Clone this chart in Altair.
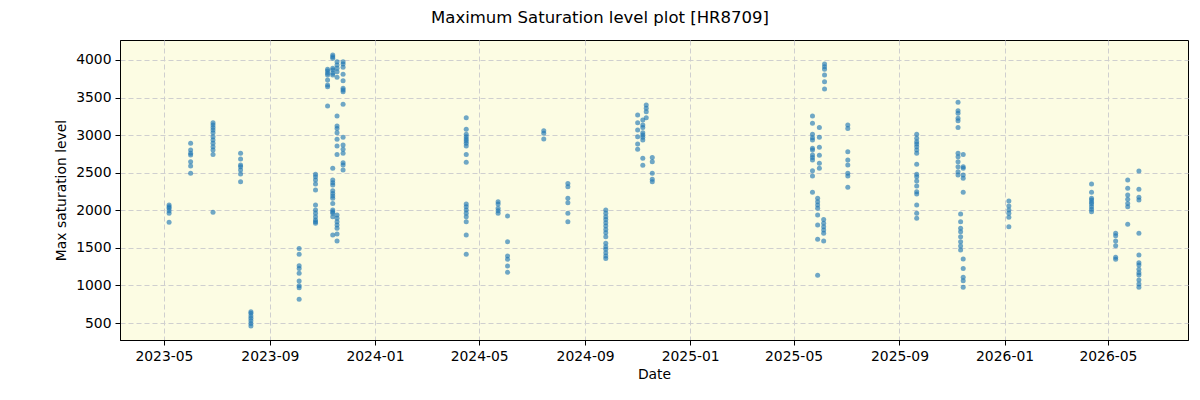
import altair as alt
import pandas as pd

# Observation dates (one entry per night) and the saturation levels measured on each
obs_dates = [
    "2023-05-07", "2023-06-01", "2023-06-27", "2023-07-29", "2023-08-10",
    "2023-10-05", "2023-10-24", "2023-11-07", "2023-11-13", "2023-11-18",
    "2023-11-25", "2024-04-16", "2024-05-23", "2024-06-03", "2024-07-15",
    "2024-08-12", "2024-09-25", "2024-11-01", "2024-11-07", "2024-11-11",
    "2024-11-18", "2025-05-23", "2025-05-29", "2025-05-31", "2025-06-05",
    "2025-06-06", "2025-07-03", "2025-09-21", "2025-11-08", "2025-11-11",
    "2025-11-14", "2026-01-06", "2026-04-12", "2026-05-10", "2026-05-24",
    "2026-06-06",
]

levels = [
    [2070, 2048, 2026, 1995, 1959, 1840],
    [2891, 2802, 2758, 2736, 2647, 2589, 2492],
    [3166, 3135, 3103, 3068, 3033, 2980, 2935, 2891, 2846, 2802, 2744, 1973],
    [2758, 2682, 2603, 2580, 2536, 2483, 2381],
    [651, 629, 593, 562, 531, 495, 460],
    [1493, 1414, 1263, 1227, 1161, 1059, 997, 970, 815],
    [2478, 2447, 2403, 2350, 2270, 2070, 2004, 1959, 1915, 1871, 1848, 1826],
    [3876, 3853, 3822, 3800, 3734, 3667, 3645, 3388],
    [4066, 4044, 4022, 3889, 3867, 3822, 3800, 2558, 2403, 2367, 2336, 2261,
     2225, 2190, 2159, 2092, 2004, 1981, 1959, 1915, 1671],
    [3978, 3933, 3889, 3845, 3769, 3255, 3122, 3090, 3033, 2944, 2855, 2744,
     1937, 1893, 1848, 1804, 1760, 1684, 1591],
    [3978, 3947, 3902, 3809, 3725, 3623, 3601, 3578, 3410, 2971, 2869, 2811,
     2758, 2634, 2603, 2536],
    [3232, 3077, 3011, 2980, 2949, 2922, 2891, 2855, 2744, 2638,
     2083, 2048, 2004, 1959, 1915, 1848, 1671, 1414],
    [2115, 2083, 2026, 1995, 1959],
    [1924, 1582, 1391, 1347, 1258, 1174],
    [3059, 3024, 2949],
    [2358, 2314, 2159, 2101, 1959, 1848],
    [2004, 1959, 1915, 1879, 1835, 1791, 1746, 1702, 1649, 1560, 1516, 1480,
     1436, 1391, 1360],
    [3268, 3166, 3068, 2980, 2882, 2811],
    [3201, 3135, 3103, 3033, 3002, 2971, 2935, 2691, 2598],
    [3401, 3357, 3312, 3232],
    [2704, 2647, 2492, 2412, 2381],
    [3255, 3157, 3011, 2966, 2935, 2824, 2802, 2736, 2704, 2669, 2527, 2456, 2239],
    [2159, 2115, 2070, 2026, 1937, 1804, 1613, 1134],
    [3103, 2971, 2838, 2731, 2625, 2558],
    [1879, 1826, 1782, 1737, 1693, 1591],
    [3947, 3911, 3876, 3800, 3711, 3614],
    [3135, 3090, 2780, 2669, 2603, 2492, 2456, 2305],
    [3011, 2957, 2913, 2882, 2846, 2802, 2758, 2611, 2478, 2447, 2390, 2323,
     2248, 2217, 2070, 1959, 1893],
    [3436, 3326, 3290, 3224, 3192, 3103, 2758, 2714, 2647, 2580, 2514, 2470],
    [1950, 1848, 1760, 1715, 1649, 1582, 1525, 1471],
    [2744, 2580, 2558, 2470, 2425, 2239, 1352, 1227, 1108, 1063, 975],
    [2123, 2057, 2004, 1959, 1906, 1782],
    [2350, 2239, 2159, 2137, 2106, 2083, 2048, 2013, 1981],
    [1693, 1662, 1591, 1529, 1374, 1347],
    [2403, 2292, 2203, 2146, 2092, 2048, 1813],
    [2523, 2279, 2172, 2137, 1693, 1405, 1303, 1272, 1214, 1170, 1139, 1072,
     1019, 975],
]

x_tick_months = [(2023, 5), (2023, 9), (2024, 1), (2024, 5), (2024, 9), (2025, 1),
                 (2025, 5), (2025, 9), (2026, 1), (2026, 5)]
y_ticks = [500, 1000, 1500, 2000, 2500, 3000, 3500, 4000]

rows = [
    {"date": d, "level": v}
    for d, vals in zip(obs_dates, levels)
    for v in vals
]
df = pd.DataFrame(rows)

font = "DejaVu Sans"

x_axis = alt.Axis(
    values=[alt.DateTime(year=y, month=m, date=1, utc=True) for y, m in x_tick_months],
    labelExpr="utcFormat(datum.value, '%Y-%m')",
    title="Date",
    labelAngle=0,
)
y_axis = alt.Axis(values=y_ticks, format="d", title="Max saturation level")

chart = (
    alt.Chart(df)
    .mark_circle(size=25, color="#1f77b4", opacity=0.64)
    .encode(
        x=alt.X(
            "date:T",
            scale=alt.Scale(
                type="utc",
                domain=[
                    alt.DateTime(year=2023, month=3, date=11, utc=True),
                    alt.DateTime(year=2026, month=8, date=2, utc=True),
                ],
                nice=False,
            ),
            axis=x_axis,
        ),
        y=alt.Y(
            "level:Q",
            scale=alt.Scale(domain=[274, 4266], nice=False, zero=False),
            axis=y_axis,
        ),
    )
    .properties(
        width=1068,
        height=300,
        title=alt.TitleParams(
            "Maximum Saturation level plot [HR8709]",
            font=font,
            fontSize=16.5,
            fontWeight="normal",
            color="black",
            anchor="middle",
            dx=-54,
            offset=14,
        ),
        autosize=alt.AutoSizeParams(type="none"),
        padding={"left": 120, "top": 40, "right": 12, "bottom": 60},
        background="white",
    )
    .configure_view(fill="#fcfce3", stroke="black", strokeWidth=1)
    .configure_axis(
        labelFont=font,
        titleFont=font,
        labelFontSize=13.9,
        titleFontSize=13.9,
        titleFontWeight="normal",
        labelColor="black",
        titleColor="black",
        domainColor="black",
        tickColor="black",
        tickSize=5,
        labelPadding=4,
        grid=True,
        gridColor="#cfcfcf",
        gridDash=[5, 3],
        gridWidth=1,
    )
    .configure_axisX(titlePadding=5)
    .configure_axisY(titlePadding=7)
)

chart.save("out.html", embed_options={"renderer": "svg", "actions": False})
